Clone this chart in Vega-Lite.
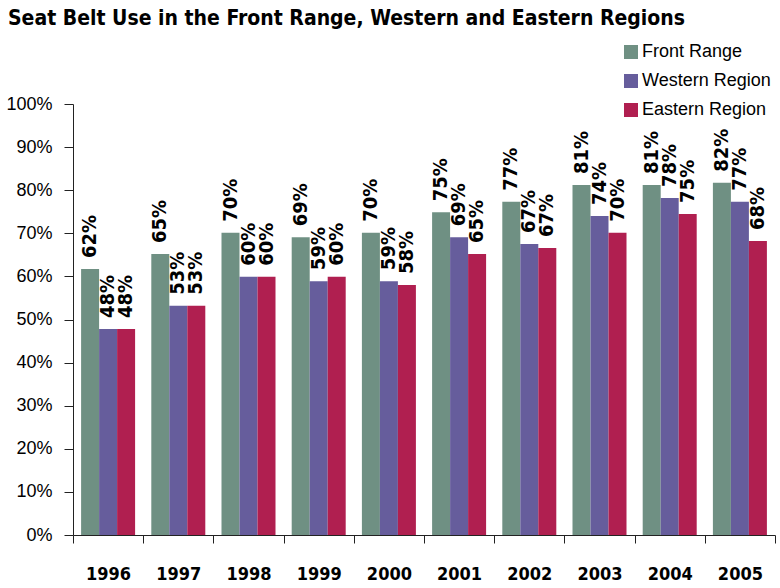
{
  "$schema": "https://vega.github.io/schema/vega-lite/v6.json",
  "width": 702,
  "height": 431,
  "autosize": "none",
  "padding": {"left": 73, "top": 104, "right": 5, "bottom": 53},
  "background": "white",
  "title": {
    "text": "Seat Belt Use in the Front Range, Western and Eastern Regions",
    "anchor": "start",
    "frame": "group",
    "dx": -65,
    "font": "DejaVu Sans Condensed, Liberation Sans",
    "fontWeight": "bold",
    "fontSize": 21,
    "color": "black",
    "offset": 14
  },
  "config": {"view": {"stroke": null}},
  "data": {
    "values": [
      {"year": "1996", "region": "Front Range", "value": 61.7, "label": "62%"},
      {"year": "1996", "region": "Western Region", "value": 47.8, "label": "48%"},
      {"year": "1996", "region": "Eastern Region", "value": 47.8, "label": "48%"},
      {"year": "1997", "region": "Front Range", "value": 65.2, "label": "65%"},
      {"year": "1997", "region": "Western Region", "value": 53.2, "label": "53%"},
      {"year": "1997", "region": "Eastern Region", "value": 53.2, "label": "53%"},
      {"year": "1998", "region": "Front Range", "value": 70.1, "label": "70%"},
      {"year": "1998", "region": "Western Region", "value": 59.9, "label": "60%"},
      {"year": "1998", "region": "Eastern Region", "value": 59.9, "label": "60%"},
      {"year": "1999", "region": "Front Range", "value": 69.1, "label": "69%"},
      {"year": "1999", "region": "Western Region", "value": 58.9, "label": "59%"},
      {"year": "1999", "region": "Eastern Region", "value": 59.9, "label": "60%"},
      {"year": "2000", "region": "Front Range", "value": 70.1, "label": "70%"},
      {"year": "2000", "region": "Western Region", "value": 58.9, "label": "59%"},
      {"year": "2000", "region": "Eastern Region", "value": 58.0, "label": "58%"},
      {"year": "2001", "region": "Front Range", "value": 74.9, "label": "75%"},
      {"year": "2001", "region": "Western Region", "value": 69.1, "label": "69%"},
      {"year": "2001", "region": "Eastern Region", "value": 65.2, "label": "65%"},
      {"year": "2002", "region": "Front Range", "value": 77.3, "label": "77%"},
      {"year": "2002", "region": "Western Region", "value": 67.5, "label": "67%"},
      {"year": "2002", "region": "Eastern Region", "value": 66.6, "label": "67%"},
      {"year": "2003", "region": "Front Range", "value": 81.2, "label": "81%"},
      {"year": "2003", "region": "Western Region", "value": 74.0, "label": "74%"},
      {"year": "2003", "region": "Eastern Region", "value": 70.1, "label": "70%"},
      {"year": "2004", "region": "Front Range", "value": 81.2, "label": "81%"},
      {"year": "2004", "region": "Western Region", "value": 78.2, "label": "78%"},
      {"year": "2004", "region": "Eastern Region", "value": 74.5, "label": "75%"},
      {"year": "2005", "region": "Front Range", "value": 81.7, "label": "82%"},
      {"year": "2005", "region": "Western Region", "value": 77.3, "label": "77%"},
      {"year": "2005", "region": "Eastern Region", "value": 68.2, "label": "68%"}
    ]
  },
  "encoding": {
    "x": {
      "field": "year",
      "type": "ordinal",
      "scale": {"paddingInner": 0, "paddingOuter": 0},
      "axis": {
        "title": null,
        "labelAngle": 0,
        "tickBand": "extent",
        "tickSize": 8,
        "labelPadding": 22,
        "labelFont": "DejaVu Sans Condensed, Liberation Sans",
        "labelFontWeight": "bold",
        "labelFontSize": 18,
        "labelColor": "black",
        "domainColor": "#222222",
        "tickColor": "#222222"
      }
    },
    "xOffset": {
      "field": "region",
      "sort": ["Front Range", "Western Region", "Eastern Region"],
      "scale": {"paddingInner": 0, "paddingOuter": 0.45}
    },
    "y": {
      "field": "value",
      "type": "quantitative",
      "scale": {"domain": [0, 100]},
      "axis": {
        "title": null,
        "grid": false,
        "values": [0, 10, 20, 30, 40, 50, 60, 70, 80, 90, 100],
        "labelExpr": "datum.value + '%'",
        "tickSize": 9,
        "labelPadding": 12,
        "labelFont": "Liberation Sans",
        "labelFontSize": 18,
        "labelColor": "black",
        "domainColor": "#222222",
        "tickColor": "#222222"
      }
    }
  },
  "layer": [
    {
      "mark": {"type": "bar"},
      "encoding": {
        "color": {
          "field": "region",
          "type": "nominal",
          "sort": ["Front Range", "Western Region", "Eastern Region"],
          "scale": {
            "domain": ["Front Range", "Western Region", "Eastern Region"],
            "range": ["#6f9083", "#665d9c", "#b01f50"]
          },
          "legend": {
            "orient": "none",
            "legendX": 549,
            "legendY": -61,
            "title": null,
            "symbolType": "square",
            "symbolSize": 196,
            "symbolStrokeWidth": 0,
            "symbolOpacity": 1,
            "labelFont": "Liberation Sans",
            "labelFontSize": 18,
            "labelColor": "black",
            "labelOffset": 2,
            "rowPadding": 11,
            "padding": 0
          }
        }
      }
    },
    {
      "mark": {
        "type": "text",
        "angle": 270,
        "align": "left",
        "baseline": "middle",
        "dx": 11,
        "font": "DejaVu Sans Condensed, Liberation Sans",
        "fontWeight": "bold",
        "fontSize": 20,
        "color": "black"
      },
      "encoding": {
        "text": {"field": "label"}
      }
    }
  ]
}
